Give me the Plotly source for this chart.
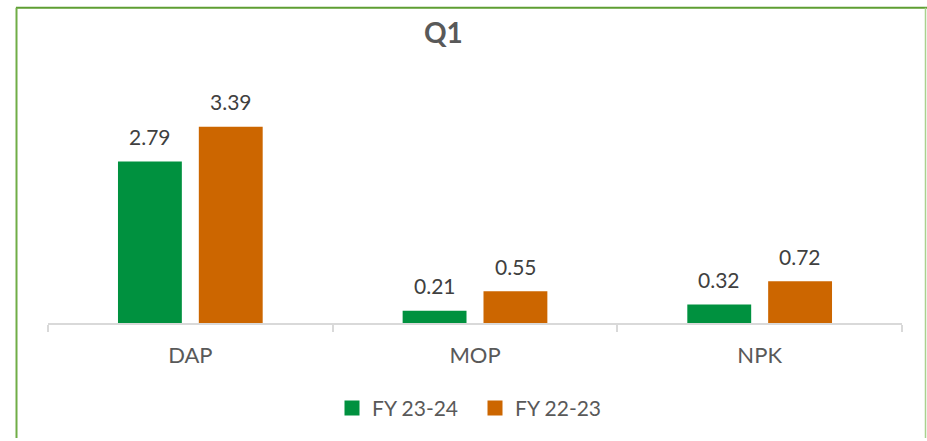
import plotly.graph_objects as go

categories = ["DAP", "MOP", "NPK"]
fy_23_24 = [2.79, 0.21, 0.32]
fy_22_23 = [3.39, 0.55, 0.72]
series_names = ["FY 23-24", "FY 22-23"]
colors = ["#00913F", "#CC6600"]

W, H = 927, 441
L, R, T, B = 48, 25, 91, 116
pw, ph = W - L - R, H - T - B

def px_x(x):
    return (x - L) / pw

def px_y(y):
    return (H - B - y) / ph

FONT = "Lato, Carlito, Calibri, Liberation Sans, sans-serif"

fig = go.Figure()
for name, vals, col in zip(series_names, [fy_23_24, fy_22_23], colors):
    fig.add_trace(go.Bar(x=categories, y=vals, name=name, marker_color=col,
                         marker_line_width=0, showlegend=False))
# legend entries with larger square symbols
for name, col in zip(series_names, colors):
    fig.add_trace(go.Scatter(x=[None], y=[None], mode="markers", name=name,
                             marker=dict(symbol="square", size=15, color=col),
                             showlegend=True))

annotations = []
for vals, shift in [(fy_23_24, -40.5), (fy_22_23, 40.5)]:
    for c, v in zip(categories, vals):
        annotations.append(dict(x=c, y=v, text=f"{v:.2f}", showarrow=False,
                                xshift=shift, yshift=25, yanchor="middle",
                                font=dict(size=21, color="#404040", family=FONT)))
annotations.append(dict(xref="paper", yref="paper", x=px_x(443), y=px_y(31),
                        text="<b>Q1</b>", showarrow=False, xanchor="center",
                        yanchor="middle",
                        font=dict(size=28, color="#595959", family=FONT)))

shapes = [
    dict(type="line", xref="paper", yref="paper", x0=px_x(16), x1=px_x(927),
         y0=px_y(7), y1=px_y(7), line=dict(color="#5E9E32", width=2)),
    dict(type="line", xref="paper", yref="paper", x0=px_x(16.5), x1=px_x(16.5),
         y0=px_y(7), y1=px_y(441), line=dict(color="#70AD47", width=2)),
    dict(type="line", xref="paper", yref="paper", x0=px_x(925.5), x1=px_x(925.5),
         y0=px_y(7), y1=px_y(441), line=dict(color="#A9D18E", width=1.5)),
]

fig.update_layout(
    width=W, height=H,
    margin=dict(l=L, r=R, t=T, b=B),
    paper_bgcolor="white", plot_bgcolor="white",
    barmode="group", bargap=0.432, bargroupgap=0.21,
    showlegend=True,
    legend=dict(orientation="h", x=px_x(332), xanchor="left", y=px_y(411),
                yanchor="middle", font=dict(size=21, color="#595959", family=FONT),
                itemwidth=30, tracegroupgap=0, itemsizing="trace",
                entrywidth=98, entrywidthmode="pixels"),
    annotations=annotations,
    shapes=shapes,
    font=dict(family=FONT),
)
fig.update_xaxes(showline=True, linecolor="#D9D9D9", linewidth=1.5,
                 ticks="outside", tickson="boundaries", ticklen=7,
                 tickcolor="#D9D9D9", tickwidth=1.5, ticklabelstandoff=12,
                 tickfont=dict(size=22, color="#595959", family=FONT),
                 showgrid=False)
fig.update_yaxes(range=[0, ph / 58.4], visible=False, showgrid=False, zeroline=False)

fig.write_html("out.html", config={"displayModeBar": False},
               post_script="document.body.style.margin='0';document.body.style.padding='0';")
